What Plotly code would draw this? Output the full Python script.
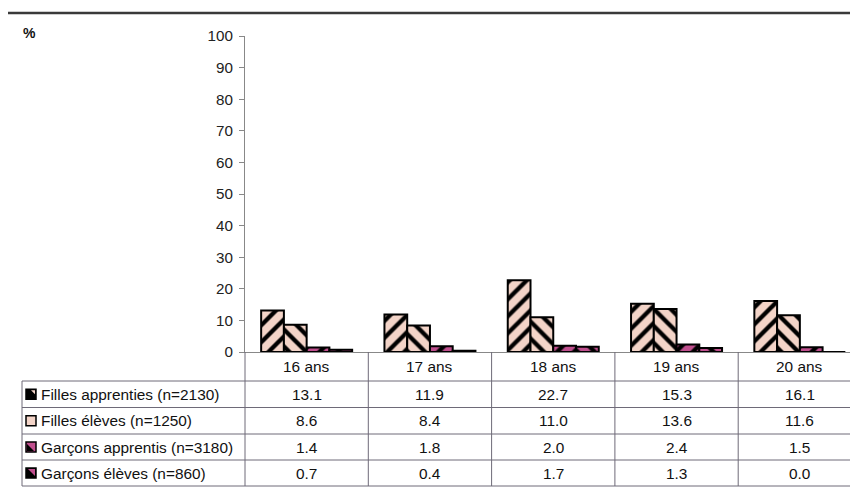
import plotly.graph_objects as go

# ---------------- data ----------------
categories = ["16 ans", "17 ans", "18 ans", "19 ans", "20 ans"]
series_names = [
    "Filles apprenties (n=2130)",
    "Filles élèves (n=1250)",
    "Garçons apprentis (n=3180)",
    "Garçons élèves (n=860)",
]
filles_apprenties = [13.1, 11.9, 22.7, 15.3, 16.1]
filles_eleves = [8.6, 8.4, 11.0, 13.6, 11.6]
garcons_apprentis = [1.4, 1.8, 2.0, 2.4, 1.5]
garcons_eleves = [0.7, 0.4, 1.7, 1.3, 0.0]
y_ticks = [0, 10, 20, 30, 40, 50, 60, 70, 80, 90, 100]

series_values = [filles_apprenties, filles_eleves, garcons_apprentis, garcons_eleves]

# ---------------- styles ----------------
PINK = "#f3d4c8"
MAGENTA = "#c04f8e"
fills = [PINK, PINK, MAGENTA, MAGENTA]
hatches = ["/", "\\", "/", "\\"]
FONT = "Liberation Sans, Arial, sans-serif"
LINE_COL = "#6e6a78"
TXT = 15.4

OFF = 8  # page body margin in the browser
PAGE_W, PAGE_H = 858, 492
W, H = PAGE_W - OFF, PAGE_H - OFF
PL, PR, PT, PB = 245, 858, 36, 352
L = PL - OFF
T = PT - OFF
R = W - (PR - OFF)
B = H - (PB - OFF)
plot_w = PR - PL
plot_h = PB - PT
cat_w = 123.3
span = plot_w / cat_w


def px_x(X):
    return (X - PL) / plot_w


def px_y(Y):
    return (PB - Y) / plot_h


fig = go.Figure()
for name, vals, col, hat in zip(series_names, series_values, fills, hatches):
    fig.add_trace(go.Bar(
        x=categories, y=vals, name=name,
        marker=dict(
            color=col,
            line=dict(color="black", width=2),
            pattern=dict(shape=hat, fgcolor="black", bgcolor=col,
                         size=12, solidity=0.36, fillmode="replace"),
        ),
    ))

shapes = []
annotations = []

shapes.append(dict(type="line", xref="paper", yref="paper",
                   x0=px_x(OFF), x1=px_x(PAGE_W), y0=px_y(13), y1=px_y(13),
                   line=dict(color="#3a3a3a", width=2.5)))

annotations.append(dict(text="<b>%</b>", xref="paper", yref="paper",
                        x=px_x(21), y=px_y(33), xanchor="left", yanchor="middle",
                        showarrow=False, font=dict(family=FONT, size=14, color="#111")))

# ---------------- data table ----------------
row_lines = [381, 407.5, 434, 460, 486]
header_top = 352
header_mid = (header_top + row_lines[0]) / 2
row_mids = [(row_lines[k] + row_lines[k + 1]) / 2 for k in range(4)]
left_x = 22

for Y in row_lines:
    shapes.append(dict(type="line", xref="paper", yref="paper",
                       x0=px_x(left_x), x1=px_x(PAGE_W), y0=px_y(Y), y1=px_y(Y),
                       line=dict(color=LINE_COL, width=1)))
for i in range(len(categories)):
    shapes.append(dict(type="line", xref="paper", yref="paper",
                       x0=i / span, x1=i / span, y0=px_y(header_top), y1=px_y(row_lines[-1]),
                       line=dict(color=LINE_COL, width=1)))
shapes.append(dict(type="line", xref="paper", yref="paper",
                   x0=px_x(left_x), x1=px_x(left_x), y0=px_y(row_lines[0]), y1=px_y(row_lines[-1]),
                   line=dict(color=LINE_COL, width=1)))

for i, c in enumerate(categories):
    annotations.append(dict(text=c, xref="x", yref="paper", x=c, y=px_y(header_mid),
                            xanchor="center", yanchor="middle", showarrow=False,
                            font=dict(family=FONT, size=TXT, color="#111")))

for k, (name, vals) in enumerate(zip(series_names, series_values)):
    ym = row_mids[k]
    annotations.append(dict(text=name, xref="paper", yref="paper",
                            x=px_x(39), y=px_y(ym), xanchor="left", yanchor="middle",
                            showarrow=False, font=dict(family=FONT, size=TXT, color="#111")))
    for c, v in zip(categories, vals):
        annotations.append(dict(text=f"{v:.1f}", xref="x", yref="paper", x=c, y=px_y(ym),
                                xanchor="center", yanchor="middle", showarrow=False,
                                font=dict(family=FONT, size=TXT, color="#111")))
    kx0, kx1 = 26, 36
    ky0, ky1 = ym - 5, ym + 5
    base = fills[k] if k in (1, 2) else "black"
    shapes.append(dict(type="rect", xref="paper", yref="paper",
                       x0=px_x(kx0), x1=px_x(kx1), y0=px_y(ky1), y1=px_y(ky0),
                       fillcolor=base, line=dict(color="black", width=1.5)))
    if k == 0:
        pts = [(kx1 - 1, ky0 + 1), (kx1 - 1, ky0 + 5), (kx1 - 5, ky0 + 1)]
        tri_col = PINK
    elif k == 2:
        pts = [(kx0 + 1, ky1 - 1), (kx0 + 1, ky0 + 2), (kx1 - 2, ky1 - 1)]
        tri_col = "black"
    elif k == 3:
        pts = [(kx0 + 2, ky0 + 1), (kx1 - 1, ky0 + 1), (kx1 - 1, ky1 - 2)]
        tri_col = MAGENTA
    else:
        pts = None
    if pts:
        path = "M " + " L ".join(f"{px_x(a)},{px_y(b)}" for a, b in pts) + " Z"
        shapes.append(dict(type="path", xref="paper", yref="paper", path=path,
                           fillcolor=tri_col, line=dict(width=0)))

fig.update_layout(
    width=W, height=H,
    margin=dict(l=L, r=R, t=T, b=B, pad=0),
    paper_bgcolor="white", plot_bgcolor="white",
    barmode="group", bargap=0.262, bargroupgap=0,
    showlegend=False,
    font=dict(family=FONT, size=15, color="#222"),
    xaxis=dict(type="category", range=[-0.5, -0.5 + span], showticklabels=False,
               ticks="", showline=True, linecolor="#888", linewidth=1,
               showgrid=False, zeroline=False, fixedrange=True),
    yaxis=dict(range=[0, 100], tickvals=y_ticks, ticks="outside", ticklen=5,
               tickcolor="#888", showline=True, linecolor="#888", linewidth=1,
               ticklabelstandoff=3,
               showgrid=False, zeroline=False, tickfont=dict(family=FONT, size=15.2, color="#222")),
    shapes=shapes,
    annotations=annotations,
)

fig.write_html("out.html")
